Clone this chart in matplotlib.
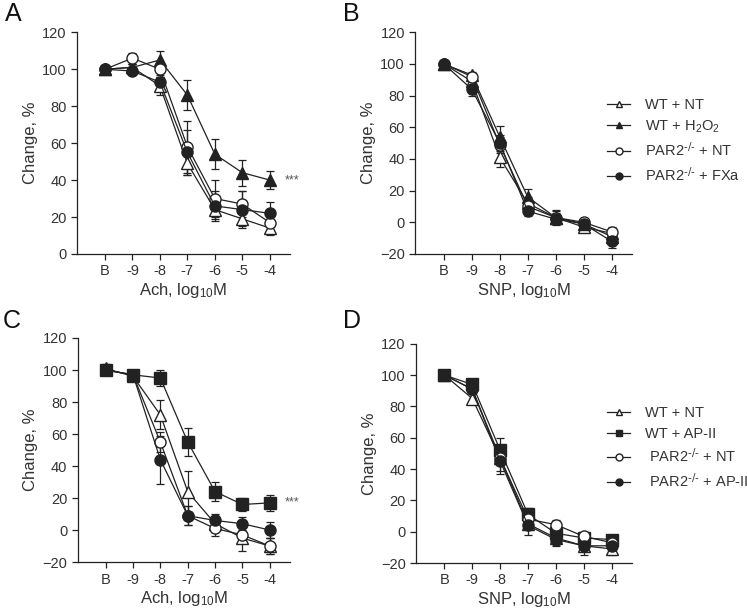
import matplotlib
matplotlib.use("Agg")
import matplotlib.pyplot as plt

plt.rcParams['font.family'] = ['Liberation Sans', 'DejaVu Sans']
plt.rcParams['mathtext.default'] = 'regular'

doses = ['B', '-9', '-8', '-7', '-6', '-5', '-4']

# panel A: Ach, WT vs H2O2 / PAR2 vs FXa
a_wt_nt = [100, 101, 91, 49, 24, 19, 14]
a_wt_nt_err = [0, 2, 5, 6, 5, 4, 4]
a_wt_h2o2 = [100, 101, 105, 86, 54, 44, 40]
a_wt_h2o2_err = [0, 2, 5, 8, 8, 7, 5]
a_par_nt = [100, 106, 100, 58, 30, 27, 17]
a_par_nt_err = [0, 3, 4, 14, 10, 7, 6]
a_par_fxa = [100, 99, 93, 55, 26, 24, 22]
a_par_fxa_err = [0, 2, 4, 12, 8, 10, 6]

# panel B: SNP
b_wt_nt = [100, 89, 41, 12, 3, -3, -7]
b_wt_nt_err = [0, 3, 6, 4, 3, 3, 3]
b_wt_h2o2 = [100, 93, 54, 16, 3, -1, -9]
b_wt_h2o2_err = [0, 2, 7, 5, 4, 2, 3]
b_par_nt = [100, 92, 49, 10, 3, 0, -6]
b_par_nt_err = [0, 2, 5, 4, 5, 2, 3]
b_par_fxa = [100, 84, 50, 7, 2, -1, -12]
b_par_fxa_err = [0, 4, 5, 3, 3, 2, 4]

# panel C: Ach, AP-II
c_wt_nt = [101, 96, 72, 24, 4, -5, -10]
c_wt_nt_err = [3, 2, 9, 13, 5, 8, 5]
c_wt_ap = [100, 97, 95, 55, 24, 16, 17]
c_wt_ap_err = [0, 2, 5, 9, 6, 4, 5]
c_par_nt = [100, 97, 55, 9, 1, -3, -10]
c_par_nt_err = [0, 2, 6, 6, 5, 4, 5]
c_par_ap = [100, 97, 44, 9, 6, 4, 0]
c_par_ap_err = [0, 2, 15, 6, 4, 4, 5]

# panel D: SNP, AP-II
d_wt_nt = [100, 85, 47, 5, -4, -9, -11]
d_wt_nt_err = [2, 3, 8, 4, 4, 6, 4]
d_wt_ap = [100, 94, 52, 11, -1, -4, -5]
d_wt_ap_err = [0, 2, 8, 4, 3, 3, 3]
d_par_nt = [100, 91, 47, 8, 4.5, -3, -7]
d_par_nt_err = [0, 2, 4, 3, 3, 3, 3]
d_par_ap = [100, 91, 45, 4, -5, -9, -9]
d_par_ap_err = [0, 2, 8, 6, 4, 3, 3]

ko = 'PAR2$^{\\text{-/-}}$'
labels_b = ['WT + NT', 'WT + H$_2$O$_2$', ko + ' + NT', ko + ' + FXa']
labels_d = ['WT + NT', 'WT + AP-II', ' ' + ko + ' + NT', ' ' + ko + ' + AP-II']

txt = '#333333'
ln = '#222222'

fig = plt.figure(figsize=(7.47, 6.09), dpi=100)
axA = fig.add_axes([0.103, 0.583, 0.285, 0.364])
axB = fig.add_axes([0.556, 0.583, 0.290, 0.364])
axC = fig.add_axes([0.104, 0.077, 0.284, 0.368])
axD = fig.add_axes([0.557, 0.0755, 0.289, 0.36])

x = list(range(len(doses)))


def draw(ax, series, styles, ylim, yticks, xlabel):
    for (vals, err), (mk, fc) in zip(series, styles):
        ax.errorbar(x, vals, yerr=err, marker=mk, mfc=fc, mec=ln, color=ln,
                    ms=8 if mk != 's' else 8.5, lw=0.9, elinewidth=0.9,
                    capsize=3, capthick=0.9, ecolor=ln)
    ax.set_xlim(-1.02, 6.73)
    ax.set_ylim(*ylim)
    ax.set_yticks(yticks)
    ax.set_xticks(x)
    ax.set_xticklabels(doses)
    ax.spines['top'].set_visible(False)
    ax.spines['right'].set_visible(False)
    for s in ['left', 'bottom']:
        ax.spines[s].set_color(ln)
        ax.spines[s].set_linewidth(0.9)
    ax.tick_params(colors=ln, labelcolor=txt, labelsize=10.5, length=4, width=0.9)
    ax.set_ylabel('Change, %', color=txt, fontsize=12, labelpad=3)
    ax.set_xlabel(xlabel, color=txt, fontsize=12, labelpad=2)


tri_styles = [('^', 'white'), ('^', ln), ('o', 'white'), ('o', ln)]
sq_styles = [('^', 'white'), ('s', ln), ('o', 'white'), ('o', ln)]

draw(axA, [(a_wt_nt, a_wt_nt_err), (a_wt_h2o2, a_wt_h2o2_err),
           (a_par_nt, a_par_nt_err), (a_par_fxa, a_par_fxa_err)],
     tri_styles, (0, 120), range(0, 121, 20), 'Ach, log$_{10}$M')
draw(axB, [(b_wt_nt, b_wt_nt_err), (b_wt_h2o2, b_wt_h2o2_err),
           (b_par_nt, b_par_nt_err), (b_par_fxa, b_par_fxa_err)],
     tri_styles, (-20, 120), range(-20, 121, 20), 'SNP, log$_{10}$M')
draw(axC, [(c_wt_nt, c_wt_nt_err), (c_wt_ap, c_wt_ap_err),
           (c_par_nt, c_par_nt_err), (c_par_ap, c_par_ap_err)],
     sq_styles, (-20, 120), range(-20, 121, 20), 'Ach, log$_{10}$M')
draw(axD, [(d_wt_nt, d_wt_nt_err), (d_wt_ap, d_wt_ap_err),
           (d_par_nt, d_par_nt_err), (d_par_ap, d_par_ap_err)],
     sq_styles, (-20, 120), range(-20, 121, 20), 'SNP, log$_{10}$M')

for ax, styles, labs, yc in [(axB, tri_styles, labels_b, 0.51), (axD, sq_styles, labels_d, 0.525)]:
    lines = []
    for mk, fc in styles:
        l, = ax.plot([], [], marker=mk, mfc=fc, mec=ln, color=ln, ms=5, lw=0.9)
        lines.append(l)
    ax.legend(lines, labs, loc='center left', bbox_to_anchor=(0.885, yc),
              frameon=False, fontsize=10.5, handlelength=1.6, labelcolor=txt,
              labelspacing=0.45, handletextpad=1.0, borderpad=0, borderaxespad=0)

axA.text(6.55, 40, '***', color='#555555', fontsize=9, va='center')
axC.text(6.55, 17, '***', color='#555555', fontsize=9, va='center')

for lab, xx, yy in [('A', 0.006, 0.997), ('B', 0.459, 0.997), ('C', 0.004, 0.493), ('D', 0.459, 0.493)]:
    fig.text(xx, yy, lab, fontsize=18, color='#111111', va='top', ha='left')

fig.savefig('out.png', dpi=100)
